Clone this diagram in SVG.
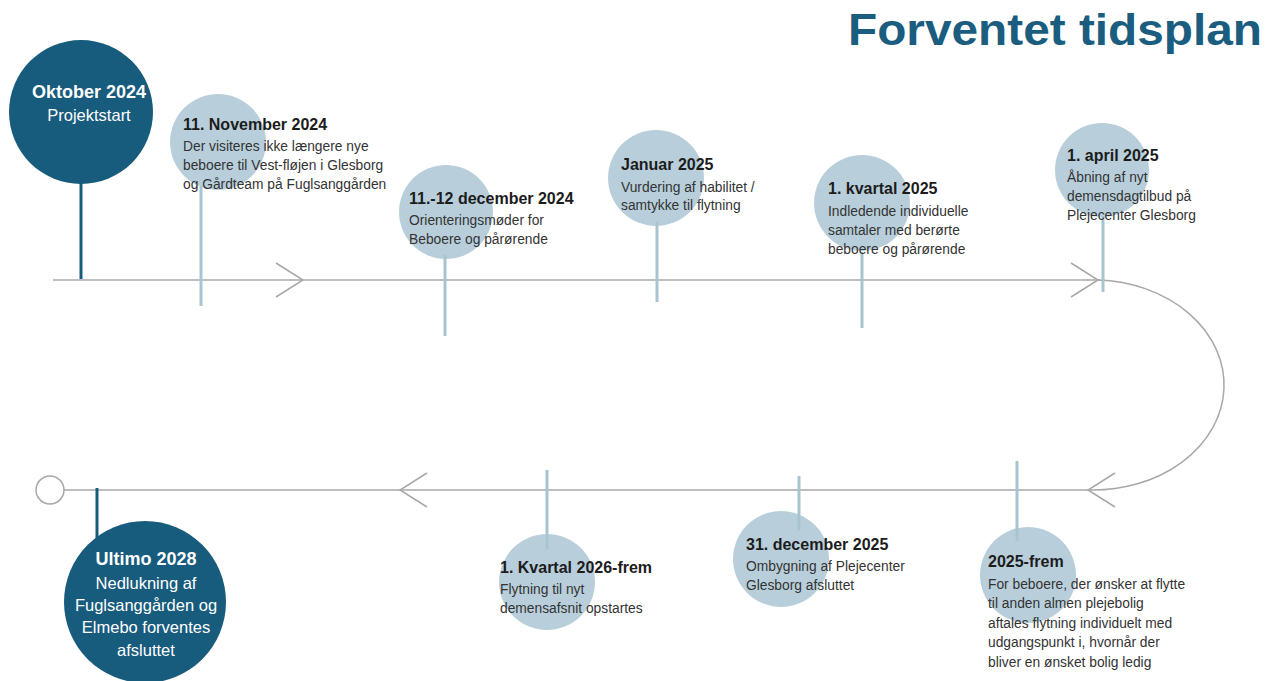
<svg xmlns="http://www.w3.org/2000/svg" width="1266" height="681" viewBox="0 0 1266 681">
<style>
.title{font-family:"Liberation Sans",Arial,sans-serif;font-weight:bold;font-size:44px;fill:#1a5d7f}
.line{fill:none;stroke:#a8a8a8;stroke-width:1.5}
.dark{fill:#175b7d}
.light{fill:#b8cfdb}
.dstem{stroke:#175b7d;stroke-width:3}
.lstem{stroke:#a9c4d1;stroke-width:3}
.h{font-family:"Liberation Sans",Arial,sans-serif;font-weight:bold;font-size:16px;fill:#1c1c1c}
.t{font-family:"Liberation Sans",Arial,sans-serif;font-size:13.8px;fill:#333333}
.wh{font-family:"Liberation Sans",Arial,sans-serif;font-weight:bold;font-size:18px;fill:#ffffff;text-anchor:middle}
.wt{font-family:"Liberation Sans",Arial,sans-serif;font-size:16.5px;fill:#ffffff;text-anchor:middle}
</style>
<rect width="1266" height="681" fill="#ffffff"/>
<text class="title" x="848" y="45" textLength="414" lengthAdjust="spacingAndGlyphs">Forventet tidsplan</text>

<g id="connectors">
  <line class="line" x1="53" y1="280" x2="1100" y2="280"/>
  <path class="line" d="M1098,280 A131 105 0 0 1 1088,490"/>
  <line class="line" x1="64" y1="490" x2="1088" y2="490"/>
  <circle class="line" cx="50" cy="490" r="14"/>
  <polyline class="line" points="276,263 303,280 276,297"/>
  <polyline class="line" points="1071,263 1098,280 1071,297"/>
  <polyline class="line" points="1115,473 1088,490 1115,507"/>
  <polyline class="line" points="427,473 400,490 427,507"/>
</g>

<g id="n-okt2024">
  <line class="dstem" x1="81" y1="150" x2="81" y2="279"/>
  <circle class="dark" cx="81" cy="112" r="72"/>
  <text class="wh" x="89" y="98">Oktober 2024</text>
  <text class="wt" x="89" y="121">Projektstart</text>
</g>

<g id="n-nov2024">
  <circle class="light" cx="218" cy="142" r="48"/>
  <line class="lstem" x1="201" y1="186" x2="201" y2="306"/>
  <text class="h" x="183" y="130">11. November 2024</text>
  <text class="t" x="183" y="151">Der visiteres ikke længere nye</text>
  <text class="t" x="183" y="170">beboere til Vest-fløjen i Glesborg</text>
  <text class="t" x="183" y="189">og Gårdteam på Fuglsanggården</text>
</g>

<g id="n-dec2024">
  <circle class="light" cx="446" cy="212" r="47"/>
  <line class="lstem" x1="445" y1="255" x2="445" y2="336"/>
  <text class="h" x="409" y="204">11.-12 december 2024</text>
  <text class="t" x="409" y="225">Orienteringsmøder for</text>
  <text class="t" x="409" y="244">Beboere og pårørende</text>
</g>

<g id="n-jan2025">
  <circle class="light" cx="656" cy="178" r="48"/>
  <line class="lstem" x1="657" y1="222" x2="657" y2="302"/>
  <text class="h" x="621" y="170">Januar 2025</text>
  <text class="t" x="621" y="192">Vurdering af habilitet /</text>
  <text class="t" x="621" y="210">samtykke til flytning</text>
</g>

<g id="n-kv2025">
  <circle class="light" cx="862" cy="203" r="48"/>
  <line class="lstem" x1="862" y1="252" x2="862" y2="328"/>
  <text class="h" x="828" y="194">1. kvartal 2025</text>
  <text class="t" x="828" y="216">Indledende individuelle</text>
  <text class="t" x="828" y="235">samtaler med berørte</text>
  <text class="t" x="828" y="254">beboere og pårørende</text>
</g>

<g id="n-apr2025">
  <circle class="light" cx="1102" cy="170" r="47"/>
  <line class="lstem" x1="1103" y1="216" x2="1103" y2="292"/>
  <text class="h" x="1067" y="161">1. april 2025</text>
  <text class="t" x="1067" y="182">Åbning af nyt</text>
  <text class="t" x="1067" y="201">demensdagtilbud på</text>
  <text class="t" x="1067" y="220">Plejecenter Glesborg</text>
</g>

<g id="n-2025frem">
  <circle class="light" cx="1028" cy="575" r="48"/>
  <line class="lstem" x1="1017" y1="461" x2="1017" y2="541"/>
  <text class="h" x="988" y="567">2025-frem</text>
  <text class="t" x="988" y="589">For beboere, der ønsker at flytte</text>
  <text class="t" x="988" y="608">til anden almen plejebolig</text>
  <text class="t" x="988" y="628">aftales flytning individuelt med</text>
  <text class="t" x="988" y="647">udgangspunkt i, hvornår der</text>
  <text class="t" x="988" y="667">bliver en ønsket bolig ledig</text>
</g>

<g id="n-dec2025">
  <circle class="light" cx="781" cy="559" r="48"/>
  <line class="lstem" x1="799" y1="476" x2="799" y2="530"/>
  <text class="h" x="746" y="550">31. december 2025</text>
  <text class="t" x="746" y="571">Ombygning af Plejecenter</text>
  <text class="t" x="746" y="590">Glesborg afsluttet</text>
</g>

<g id="n-kv2026">
  <circle class="light" cx="547" cy="582" r="48"/>
  <line class="lstem" x1="547" y1="470" x2="547" y2="549"/>
  <text class="h" x="500" y="573">1. Kvartal 2026-frem</text>
  <text class="t" x="500" y="594">Flytning til nyt</text>
  <text class="t" x="500" y="613">demensafsnit opstartes</text>
</g>

<g id="n-ultimo2028">
  <line class="dstem" x1="97" y1="488" x2="97" y2="545"/>
  <circle class="dark" cx="145" cy="602" r="81"/>
  <text class="wh" x="146" y="565">Ultimo 2028</text>
  <text class="wt" x="146" y="589">Nedlukning af</text>
  <text class="wt" x="146" y="611">Fuglsanggården og</text>
  <text class="wt" x="146" y="633">Elmebo forventes</text>
  <text class="wt" x="146" y="656">afsluttet</text>
</g>
</svg>
